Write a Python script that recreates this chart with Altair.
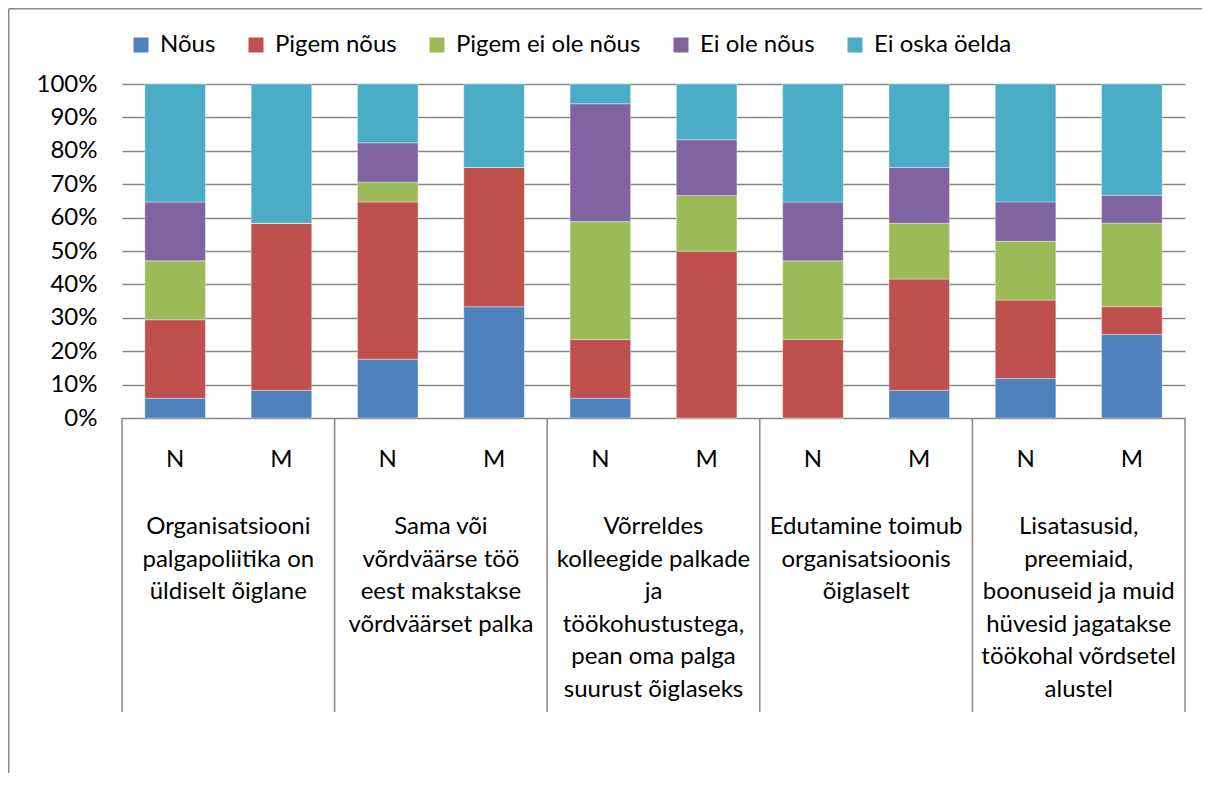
import altair as alt
import pandas as pd

# ---- data ----
series = ["Nõus", "Pigem nõus", "Pigem ei ole nõus", "Ei ole nõus", "Ei oska öelda"]
colors = ["#4F81BD", "#C0504D", "#9BBB59", "#8064A2", "#4BACC6"]
bar_labels = ["N", "M", "N", "M", "N", "M", "N", "M", "N", "M"]
groups = [
    "Organisatsiooni\npalgapoliitika on\nüldiselt õiglane",
    "Sama või\nvõrdväärse töö\neest makstakse\nvõrdväärset palka",
    "Võrreldes\nkolleegide palkade\nja\ntöökohustustega,\npean oma palga\nsuurust õiglaseks",
    "Edutamine toimub\norganisatsioonis\nõiglaselt",
    "Lisatasusid,\npreemiaid,\nboonuseid ja muid\nhüvesid jagatakse\ntöökohal võrdsetel\nalustel",
]
nous = [5.9, 8.3, 17.6, 33.3, 5.9, 0.0, 0.0, 8.3, 11.8, 25.0]
pigem_nous = [23.5, 50.0, 47.1, 41.7, 17.6, 50.0, 23.5, 33.3, 23.5, 8.3]
pigem_ei_ole = [17.6, 0.0, 5.9, 0.0, 35.3, 16.7, 23.5, 16.7, 17.6, 25.0]
ei_ole = [17.6, 0.0, 11.8, 0.0, 35.3, 16.7, 17.6, 16.7, 11.8, 8.3]
ei_oska = [35.3, 41.7, 17.6, 25.0, 5.9, 16.7, 35.3, 25.0, 35.3, 33.3]

values = [nous, pigem_nous, pigem_ei_ole, ei_ole, ei_oska]
totals = [sum(v[i] for v in values) for i in range(len(bar_labels))]
rows = []
for b_i in range(len(bar_labels)):
    acc = 0.0
    for s_i, s in enumerate(series):
        v = values[s_i][b_i] / totals[b_i]
        rows.append({"series": s, "order": s_i, "idx": b_i,
                     "y0": acc, "y1": acc + v})
        acc += v
bars_df = pd.DataFrame(rows)
nm_df = pd.DataFrame({"idx": list(range(len(bar_labels))), "label": bar_labels})
grp_df = pd.DataFrame({"g": list(range(len(groups))), "label": groups})
sep_df = pd.DataFrame({"pos": [0, 2, 4, 6, 8, 10]})
one = pd.DataFrame({"a": [0]})

FONT = "Lato"
FS = 24
W, H = 1063, 334
xscale = alt.Scale(domain=[0, 10], nice=False, zero=False)

bars = (
    alt.Chart(bars_df)
    .transform_calculate(x0="datum.idx + 0.215", x1="datum.idx + 0.785")
    .mark_bar(stroke="white", strokeWidth=0.6, strokeOpacity=0.6)
    .encode(
        x=alt.X("x0:Q", scale=xscale, axis=None),
        x2="x1:Q",
        y=alt.Y(
            "y0:Q",
            scale=alt.Scale(domain=[0, 1], nice=False),
            axis=alt.Axis(
                title=None, format="%", values=[i / 10 for i in range(11)],
                domain=False, ticks=False, labelPadding=25,
                labelFont=FONT, labelFontSize=FS, labelColor="black",
                grid=True, gridColor="#868686", gridWidth=1.5,
            ),
        ),
        y2="y1:Q",
        color=alt.Color(
            "series:N",
            scale=alt.Scale(domain=series, range=colors),
            legend=alt.Legend(
                title=None, orient="none", direction="horizontal",
                legendX=7, legendY=-51, symbolType="square", symbolSize=225,
                symbolStrokeWidth=0, labelFont=FONT, labelFontSize=FS,
                labelColor="black", labelOffset=7, columnPadding=28,
                labelLimit=0,
            ),
        ),
    )
)

seps = (
    alt.Chart(sep_df)
    .mark_rule(color="#868686", strokeWidth=1.5)
    .encode(x=alt.X("pos:Q", scale=xscale, axis=None), y=alt.value(H), y2=alt.value(628))
)

nm = (
    alt.Chart(nm_df)
    .transform_calculate(xc="datum.idx + 0.5")
    .mark_text(font=FONT, fontSize=FS, color="black", baseline="middle", align="center")
    .encode(x=alt.X("xc:Q", scale=xscale, axis=None), y=alt.value(376), text="label:N")
)

grp = (
    alt.Chart(grp_df)
    .transform_calculate(xc="2 * datum.g + 1")
    .mark_text(font=FONT, fontSize=FS, color="black", baseline="top", align="center",
               lineBreak="\n", lineHeight=32.5)
    .encode(x=alt.X("xc:Q", scale=xscale, axis=None), y=alt.value(431), text="label:N")
)

border_left = alt.Chart(one).mark_rule(color="#898989", strokeWidth=1.5).encode(
    x=alt.value(-113.25), y=alt.value(-75.25), y2=alt.value(689)
)
border_top = alt.Chart(one).mark_rule(color="#898989", strokeWidth=1.5).encode(
    x=alt.value(-113.25), x2=alt.value(1080), y=alt.value(-75.25)
)

chart = (
    alt.layer(seps, bars, nm, grp, border_left, border_top)
    .properties(
        width=W, height=H,
        padding={"left": 114, "top": 76, "right": 17, "bottom": 355},
        autosize=alt.AutoSizeParams(type="none"),
        background="white",
    )
    .configure_view(stroke=None)
)

chart.save("out.html", embed_options={"renderer": "svg", "actions": False})
